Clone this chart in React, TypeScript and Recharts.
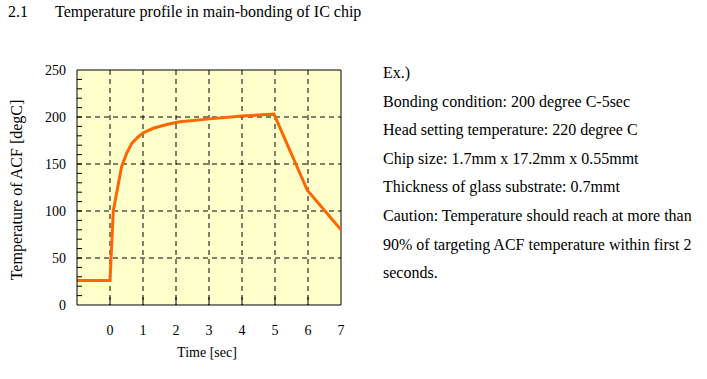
import React from "react";
import {
  LineChart,
  Line,
  XAxis,
  YAxis,
  CartesianGrid,
  ReferenceLine,
} from "recharts";

// ---- data ----
const timeSec = [-1, 0, 0.1, 0.35, 0.5, 0.66, 0.86, 1.0, 1.31, 1.72, 2.12, 3.03, 4.0, 4.97, 5.98, 7];
const tempC = [26, 26, 100, 147, 161, 172, 179, 183, 188, 192, 195, 198, 201, 203, 122, 80];

const xTicks = [-1, 0, 1, 2, 3, 4, 5, 6, 7];
const yTicks = [0, 10, 20, 30, 40, 50, 60, 70, 80, 90, 100, 110, 120, 130, 140, 150, 160, 170, 180, 190, 200, 210, 220, 230, 240, 250];
const xGrid = [0, 1, 2, 3, 4, 5, 6];
const yGrid = [50, 100, 150, 200];
const yLabelStep = 50;
const xDomain: [number, number] = [-1, 7];
const yDomain: [number, number] = [0, 250];

const titleNumber = "2.1";
const titleText = "Temperature profile in main-bonding of IC chip";
const xAxisTitle = "Time [sec]";
const yAxisTitle = "Temperature of ACF [degC]";
const notes = [
  "Ex.)",
  "Bonding condition: 200 degree C-5sec",
  "Head setting temperature: 220 degree C",
  "Chip size: 1.7mm x 17.2mm x 0.55mmt",
  "Thickness of glass substrate: 0.7mmt",
  "Caution: Temperature should reach at more than",
  "90% of targeting ACF temperature within first 2",
  "seconds.",
];

const data = timeSec.map((t, i) => ({ t, v: tempC[i] }));

const FONT = "'Liberation Serif', 'Times New Roman', serif";

const Y_AXIS_W = 40;
const X_AXIS_H = 40;

const renderXTick = (props: any) => {
  const { x, y, payload } = props;
  const v = payload.value;
  if (v < 0) return <g />;
  return (
    <g>
      {v < 7 && <line x1={x} x2={x} y1={y} y2={y - 8} stroke="#000" strokeWidth={1} />}
      <text x={x} y={y + 30} textAnchor="middle" fontFamily={FONT} fontSize={14} fill="#000">
        {String(v)}
      </text>
    </g>
  );
};

const renderYTick = (props: any) => {
  const { x, y, payload } = props;
  const v = payload.value;
  return (
    <g>
      {v > 0 && v < 250 && <line x1={x} x2={x + 5} y1={y} y2={y} stroke="#000" strokeWidth={1} />}
      {v % yLabelStep === 0 && (
        <text x={x - 11} y={y + 5} textAnchor="end" fontFamily={FONT} fontSize={14} fill="#000">
          {String(v)}
        </text>
      )}
    </g>
  );
};

const vGen = (args: any) => {
  const ax = args && args.xAxis;
  if (ax && typeof ax.scale === "function") return xGrid.map((v) => ax.scale(v));
  const o = args.offset;
  return xGrid.map((v) => o.left + ((v - xDomain[0]) / (xDomain[1] - xDomain[0])) * o.width);
};
const hGen = (args: any) => {
  const ax = args && args.yAxis;
  if (ax && typeof ax.scale === "function") return yGrid.map((v) => ax.scale(v));
  const o = args.offset;
  return yGrid.map((v) => o.top + (1 - (v - yDomain[0]) / (yDomain[1] - yDomain[0])) * o.height);
};

export default function App() {
  return (
    <div
      style={{
        position: "absolute",
        left: 0,
        top: 0,
        width: 707,
        height: 379,
        background: "#fff",
        fontFamily: FONT,
      }}
    >
      <LineChart
        width={707}
        height={379}
        data={data}
        margin={{ top: 70, right: 366, bottom: 74 - X_AXIS_H, left: 77 - Y_AXIS_W }}
      >
        <CartesianGrid
          fill="#FFFFCC"
          stroke="#000"
          strokeDasharray="5 4"
          verticalCoordinatesGenerator={vGen}
          horizontalCoordinatesGenerator={hGen}
        />
        <XAxis
          dataKey="t"
          type="number"
          domain={xDomain}
          ticks={xTicks}
          interval={0}
          height={X_AXIS_H}
          tickSize={0}
          tickMargin={0}
          tick={renderXTick}
          axisLine={{ stroke: "#000", strokeWidth: 1 }}
          tickLine={false}
          allowDataOverflow
        />
        <YAxis
          type="number"
          domain={yDomain}
          ticks={yTicks}
          interval={0}
          width={Y_AXIS_W}
          tickSize={0}
          tickMargin={0}
          tick={renderYTick}
          axisLine={{ stroke: "#000", strokeWidth: 1 }}
          tickLine={false}
          allowDataOverflow
        />
        <ReferenceLine y={yDomain[1]} stroke="#000" strokeWidth={1} />
        <ReferenceLine x={xDomain[1]} stroke="#000" strokeWidth={1} />
        <Line
          dataKey="v"
          type="linear"
          stroke="#FF6600"
          strokeWidth={3}
          dot={false}
          activeDot={false}
          isAnimationActive={false}
        />
      </LineChart>
      <svg
        width={707}
        height={379}
        style={{ position: "absolute", left: 0, top: 0, pointerEvents: "none" }}
      >
        <text x={8} y={17} fontFamily={FONT} fontSize={16} fill="#000">
          {titleNumber}
        </text>
        <text x={55} y={17} fontFamily={FONT} fontSize={16} fill="#000">
          {titleText}
        </text>
        <text x={207} y={357} textAnchor="middle" fontFamily={FONT} fontSize={14} fill="#000">
          {xAxisTitle}
        </text>
        <text
          x={22}
          y={190}
          textAnchor="middle"
          transform="rotate(-90 22 190)"
          fontFamily={FONT}
          fontSize={16}
          fill="#000"
        >
          {yAxisTitle}
        </text>
        {notes.map((s, i) => (
          <text key={i} x={383} y={78 + i * 28.6} fontFamily={FONT} fontSize={16} fill="#000">
            {s}
          </text>
        ))}
      </svg>
    </div>
  );
}
